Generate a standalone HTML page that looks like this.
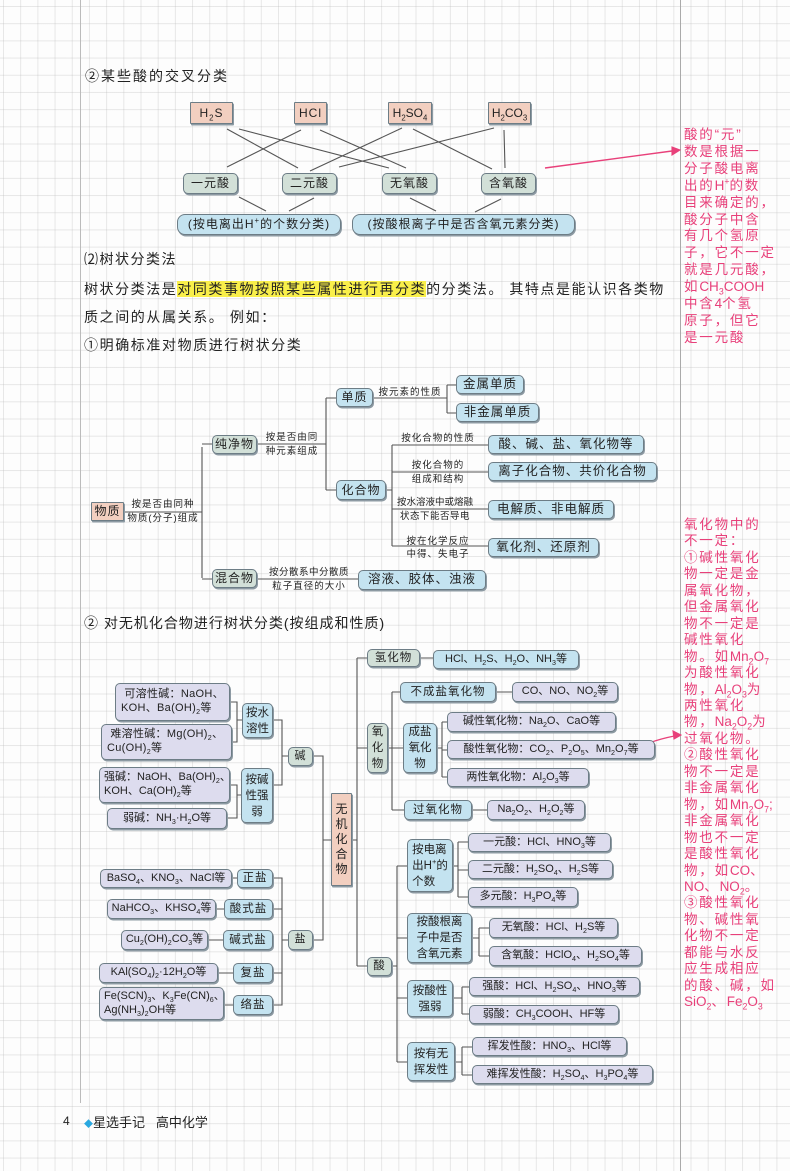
<!DOCTYPE html>
<html><head><meta charset="utf-8">
<style>
*{margin:0;padding:0;box-sizing:border-box}
body{width:790px;height:1171px;position:relative;overflow:hidden;background:#fdfdfd;
background-image:linear-gradient(to right,rgba(180,180,180,.3) 1px,transparent 1px),linear-gradient(to bottom,rgba(180,180,180,.3) 1px,transparent 1px);
background-size:17.2px 17.2px;background-position:3px 6px;
font-family:"Liberation Sans","Noto Sans CJK SC",sans-serif;color:#222}
.b{position:absolute;display:flex;align-items:center;justify-content:center;text-align:center;border:1px solid #6d7d86;border-radius:5px;box-shadow:1px 1.5px 0 #8d9aa3;font-size:12px;line-height:1.25;white-space:nowrap;letter-spacing:1px}
.b.w{white-space:normal;letter-spacing:0;line-height:16px;padding:0 2px}
.pk{background:#f2cfc0;border-radius:1px}
.gb{background:#d2e0d8}
.bl{background:#c4e3f0}
.lv{background:#dddcee}
.t{position:absolute;white-space:nowrap}
.l{position:absolute;font-size:9.5px;line-height:13px;text-align:center;white-space:nowrap;letter-spacing:1px}
.r{position:absolute;color:#e8407a;font-size:13.5px;letter-spacing:1.8px;white-space:nowrap}
.r i{font-style:normal;letter-spacing:0}
sub,sup{font-size:65%;line-height:0}
</style></head><body>
<div style="position:absolute;left:80px;top:0;width:1px;height:1103px;background:#bbb"></div>
<div style="position:absolute;left:680px;top:0;width:1px;height:1171px;background:#aaa"></div>

<svg width="790" height="1171" style="position:absolute;left:0;top:0" fill="none" stroke="#555" stroke-width="1.1">
<g>
<path d="M227 129L298 168M239 129L389 168M301 130L227 167M320 130L406 168M402 128L310 171M413 129L492 169M494 128L339 167M504 130L505 168"/>
<path d="M239 197L266 211M314 198L289 211M410 198L436 211M501 199L475 212"/>
<path d="M545 168L672 151" stroke="#e8407a" stroke-width="1.4"/>
<path d="M672 147L680 150L672 155Z" fill="#e8407a" stroke="#e8407a"/>
<path d="M124 512H202M202 447V578M202 444H212M202 579H212M257 444H326M326 398V490M326 398H336M326 490H336M373 398H447M447 385V413M447 385H456M447 413H456M386 490H392M392 445V546M392 445H488M392 472H488M392 509H488M392 546H488M257 579H358"/>
<path d="M230 702H237V742H232M237 720H242M230 785H237V818H227M237 795H241M273 720H282V785H273M282 756H288"/>
<path d="M232 878H237M216 909H224M208 940H223M218 973H233M224 1005H233M273 878H282V1005H273M282 909H273M282 940H288M282 973H273"/>
<path d="M313 756H323V940H313M323 840H331M352 840H357M357 658V966M357 658H367M357 748H367M357 966H367M420 658H433"/>
<path d="M388 748H392M392 692V810M392 692H400M392 748H403M392 810H404M496 692H512M437 748H442M442 722V777M442 722H447M442 750H447M442 777H447M472 810H487"/>
<path d="M392 966H397M397 866V1062M397 866H407M397 938H407M397 998H407M397 1062H407M453 866H458M458 842V897M458 842H468M458 870H468M458 897H468M472 938H479M479 928V956M479 928H489M479 956H489M453 998H462M462 987V1014M462 987H469M462 1014H469M455 1062H462M462 1047V1075M462 1047H472M462 1075H472"/>
<path d="M630 752Q650 740 680 735" stroke="#e8407a" stroke-width="1.3"/>
<path d="M673 731L681 735L674 739Z" fill="#e8407a" stroke="#e8407a"/>
</g>
</svg>

<div class="t" style="left:85px;top:66px;font-size:14px;letter-spacing:2px">②某些酸的交叉分类</div>
<div class="b pk" style="left:190px;top:102px;width:43px;height:22px"><span>H<sub>2</sub>S</span></div>
<div class="b pk" style="left:294px;top:102px;width:33px;height:22px"><span>HCl</span></div>
<div class="b pk" style="left:388px;top:102px;width:44px;height:22px;letter-spacing:0"><span>H<sub>2</sub>SO<sub>4</sub></span></div>
<div class="b pk" style="left:488px;top:102px;width:43px;height:22px;letter-spacing:0"><span>H<sub>2</sub>CO<sub>3</sub></span></div>
<div class="b gb" style="left:183px;top:173px;width:55px;height:21px">一元酸</div>
<div class="b gb" style="left:282px;top:173px;width:55px;height:21px">二元酸</div>
<div class="b gb" style="left:382px;top:173px;width:55px;height:21px">无氧酸</div>
<div class="b gb" style="left:481px;top:173px;width:55px;height:21px">含氧酸</div>
<div class="b bl" style="left:177px;top:214px;width:164px;height:21px;border-radius:8px"><span>(按电离出H<sup>+</sup>的个数分类)</span></div>
<div class="b bl" style="left:352px;top:214px;width:223px;height:21px;border-radius:8px">(按酸根离子中是否含氧元素分类)</div>

<div class="t" style="left:84px;top:249px;font-size:14px;letter-spacing:1.5px">⑵树状分类法</div>
<div class="t" style="left:84px;top:279px;font-size:14px;letter-spacing:1.55px">树状分类法是<span style="background:#f9ef4a">对同类事物按照某些属性进行再分类</span>的分类法。 其特点是能认识各类物</div>
<div class="t" style="left:84px;top:307px;font-size:14px;letter-spacing:1.6px">质之间的从属关系。 例如：</div>
<div class="t" style="left:84px;top:335px;font-size:14px;letter-spacing:1.6px">①明确标准对物质进行树状分类</div>

<div class="b pk" style="left:91px;top:502px;width:33px;height:19px">物质</div>
<div class="l" style="left:125px;top:498px;width:76px">按是否由同种</div>
<div class="l" style="left:125px;top:512px;width:76px">物质(分子)组成</div>
<div class="b gb" style="left:212px;top:435px;width:45px;height:19px">纯净物</div>
<div class="l" style="left:260px;top:431px;width:64px">按是否由同</div>
<div class="l" style="left:260px;top:445px;width:64px">种元素组成</div>
<div class="b bl" style="left:336px;top:388px;width:37px;height:19px">单质</div>
<div class="l" style="left:375px;top:386px;width:70px">按元素的性质</div>
<div class="b bl" style="left:456px;top:375px;width:68px;height:19px;font-size:12.5px">金属单质</div>
<div class="b bl" style="left:456px;top:403px;width:83px;height:19px;font-size:12.5px">非金属单质</div>
<div class="b bl" style="left:336px;top:480px;width:50px;height:20px">化合物</div>
<div class="l" style="left:396px;top:432px;width:84px">按化合物的性质</div>
<div class="b bl" style="left:488px;top:435px;width:156px;height:19px;font-size:12.5px">酸、碱、盐、氧化物等</div>
<div class="l" style="left:400px;top:459px;width:76px">按化合物的</div>
<div class="l" style="left:400px;top:473px;width:76px">组成和结构</div>
<div class="b bl" style="left:488px;top:462px;width:169px;height:19px;font-size:12.5px">离子化合物、共价化合物</div>
<div class="l" style="left:392px;top:496px;width:86px;letter-spacing:0">按水溶液中或熔融</div>
<div class="l" style="left:392px;top:510px;width:86px;letter-spacing:0.5px">状态下能否导电</div>
<div class="b bl" style="left:488px;top:500px;width:126px;height:19px;font-size:12.5px">电解质、非电解质</div>
<div class="l" style="left:400px;top:535px;width:76px">按在化学反应</div>
<div class="l" style="left:400px;top:548px;width:76px">中得、失电子</div>
<div class="b bl" style="left:488px;top:538px;width:111px;height:19px;font-size:12.5px">氧化剂、还原剂</div>
<div class="b gb" style="left:212px;top:569px;width:45px;height:19px">混合物</div>
<div class="l" style="left:262px;top:566px;width:94px;letter-spacing:0.5px">按分散系中分散质</div>
<div class="l" style="left:262px;top:580px;width:94px">粒子直径的大小</div>
<div class="b bl" style="left:358px;top:570px;width:128px;height:20px;font-size:12.5px">溶液、胶体、浊液</div>

<div class="t" style="left:84px;top:613px;font-size:14px;letter-spacing:1px">② 对无机化合物进行树状分类(按组成和性质)</div>

<div class="b lv" style="left:115px;top:683px;width:115px;height:38px;font-size:11px;justify-content:flex-start;text-align:left;padding-left:5px;letter-spacing:0.3px"><span>&nbsp;可溶性碱：NaOH、<br>KOH、Ba(OH)<sub>2</sub>等</span></div>
<div class="b lv" style="left:101px;top:724px;width:131px;height:36px;font-size:11px;justify-content:flex-start;text-align:left;padding-left:5px;letter-spacing:0.3px"><span>&nbsp;难溶性碱：Mg(OH)<sub>2</sub>、<br>Cu(OH)<sub>2</sub>等</span></div>
<div class="b bl w" style="left:242px;top:703px;width:31px;height:35px;font-size:11.5px">按水溶性</div>
<div class="b lv" style="left:99px;top:767px;width:131px;height:36px;font-size:11px;justify-content:flex-start;text-align:left;padding-left:4px;letter-spacing:0"><span>强碱：NaOH、Ba(OH)<sub>2</sub>、<br>KOH、Ca(OH)<sub>2</sub>等</span></div>
<div class="b lv" style="left:107px;top:808px;width:120px;height:21px;font-size:11px;letter-spacing:0"><span>弱碱：NH<sub>3</sub>·H<sub>2</sub>O等</span></div>
<div class="b bl w" style="left:241px;top:768px;width:32px;height:55px;font-size:11.5px">按碱性强弱</div>
<div class="b gb" style="left:288px;top:747px;width:25px;height:19px;font-size:11px">碱</div>
<div class="b pk w" style="left:331px;top:793px;width:21px;height:93px;font-size:12px;line-height:15px;padding:0 3px">无机化合物</div>
<div class="b lv" style="left:100px;top:869px;width:132px;height:19px;font-size:11px;letter-spacing:0"><span>BaSO<sub>4</sub>、KNO<sub>3</sub>、NaCl等</span></div>
<div class="b bl" style="left:237px;top:869px;width:36px;height:19px;font-size:11.5px">正盐</div>
<div class="b lv" style="left:107px;top:899px;width:109px;height:20px;font-size:11px;letter-spacing:0"><span>NaHCO<sub>3</sub>、KHSO<sub>4</sub>等</span></div>
<div class="b bl" style="left:224px;top:899px;width:49px;height:20px;font-size:11.5px">酸式盐</div>
<div class="b lv" style="left:121px;top:930px;width:87px;height:20px;font-size:11px;letter-spacing:0"><span>Cu<sub>2</sub>(OH)<sub>2</sub>CO<sub>3</sub>等</span></div>
<div class="b bl" style="left:223px;top:930px;width:50px;height:20px;font-size:11.5px">碱式盐</div>
<div class="b gb" style="left:288px;top:930px;width:25px;height:20px;font-size:11px">盐</div>
<div class="b lv" style="left:99px;top:963px;width:119px;height:20px;font-size:11px;letter-spacing:0"><span>KAl(SO<sub>4</sub>)<sub>2</sub>·12H<sub>2</sub>O等</span></div>
<div class="b bl" style="left:233px;top:963px;width:40px;height:20px;font-size:11.5px">复盐</div>
<div class="b lv" style="left:99px;top:987px;width:125px;height:33px;font-size:11px;letter-spacing:0;justify-content:flex-start;text-align:left;padding-left:4px"><span>Fe(SCN)<sub>3</sub>、K<sub>3</sub>Fe(CN)<sub>6</sub>、<br>Ag(NH<sub>3</sub>)<sub>2</sub>OH等</span></div>
<div class="b bl" style="left:233px;top:995px;width:40px;height:20px;font-size:11.5px">络盐</div>

<div class="b gb" style="left:367px;top:649px;width:53px;height:18px;font-size:11.5px">氢化物</div>
<div class="b bl" style="left:433px;top:650px;width:146px;height:19px;font-size:11px;letter-spacing:0"><span>HCl、H<sub>2</sub>S、H<sub>2</sub>O、NH<sub>3</sub>等</span></div>
<div class="b gb w" style="left:367px;top:723px;width:21px;height:50px;font-size:11.5px;padding:0 3px">氧化物</div>
<div class="b bl" style="left:400px;top:682px;width:96px;height:20px;font-size:11.5px">不成盐氧化物</div>
<div class="b lv" style="left:512px;top:682px;width:106px;height:20px;font-size:11px;letter-spacing:0"><span>CO、NO、NO<sub>2</sub>等</span></div>
<div class="b bl w" style="left:403px;top:723px;width:34px;height:50px;font-size:11.5px">成盐氧化物</div>
<div class="b lv" style="left:447px;top:712px;width:169px;height:20px;font-size:11px;letter-spacing:0"><span>碱性氧化物：Na<sub>2</sub>O、CaO等</span></div>
<div class="b lv" style="left:447px;top:740px;width:208px;height:19px;font-size:11px;letter-spacing:0"><span>酸性氧化物：CO<sub>2</sub>、P<sub>2</sub>O<sub>5</sub>、Mn<sub>2</sub>O<sub>7</sub>等</span></div>
<div class="b lv" style="left:447px;top:768px;width:142px;height:19px;font-size:11px;letter-spacing:0"><span>两性氧化物：Al<sub>2</sub>O<sub>3</sub>等</span></div>
<div class="b bl" style="left:404px;top:800px;width:68px;height:20px;font-size:11.5px">过氧化物</div>
<div class="b lv" style="left:487px;top:800px;width:98px;height:20px;font-size:11px;letter-spacing:0"><span>Na<sub>2</sub>O<sub>2</sub>、H<sub>2</sub>O<sub>2</sub>等</span></div>
<div class="b gb" style="left:367px;top:957px;width:25px;height:19px;font-size:11.5px">酸</div>
<div class="b bl w" style="left:407px;top:839px;width:46px;height:53px;font-size:11.5px;text-align:left;padding:0 3px"><span>按电离<br>出H<sup>+</sup>的<br>个数</span></div>
<div class="b lv" style="left:468px;top:833px;width:143px;height:19px;font-size:11px;letter-spacing:0"><span>一元酸：HCl、HNO<sub>3</sub>等</span></div>
<div class="b lv" style="left:468px;top:860px;width:145px;height:19px;font-size:11px;letter-spacing:0"><span>二元酸：H<sub>2</sub>SO<sub>4</sub>、H<sub>2</sub>S等</span></div>
<div class="b lv" style="left:468px;top:887px;width:110px;height:20px;font-size:11px;letter-spacing:0"><span>多元酸：H<sub>3</sub>PO<sub>4</sub>等</span></div>
<div class="b bl w" style="left:407px;top:913px;width:65px;height:50px;font-size:11.5px"><span>按酸根离<br>子中是否<br>含氧元素</span></div>
<div class="b lv" style="left:489px;top:918px;width:129px;height:20px;font-size:11px;letter-spacing:0"><span>无氧酸：HCl、H<sub>2</sub>S等</span></div>
<div class="b lv" style="left:489px;top:946px;width:153px;height:20px;font-size:11px;letter-spacing:0"><span>含氧酸：HClO<sub>4</sub>、H<sub>2</sub>SO<sub>4</sub>等</span></div>
<div class="b bl w" style="left:407px;top:980px;width:46px;height:37px;font-size:11.5px"><span>按酸性<br>强弱</span></div>
<div class="b lv" style="left:469px;top:977px;width:171px;height:19px;font-size:11px;letter-spacing:0"><span>强酸：HCl、H<sub>2</sub>SO<sub>4</sub>、HNO<sub>3</sub>等</span></div>
<div class="b lv" style="left:469px;top:1005px;width:150px;height:19px;font-size:11px;letter-spacing:0"><span>弱酸：CH<sub>3</sub>COOH、HF等</span></div>
<div class="b bl w" style="left:407px;top:1042px;width:48px;height:39px;font-size:11.5px"><span>按有无<br>挥发性</span></div>
<div class="b lv" style="left:472px;top:1037px;width:155px;height:19px;font-size:11px;letter-spacing:0"><span>挥发性酸：HNO<sub>3</sub>、HCl等</span></div>
<div class="b lv" style="left:472px;top:1065px;width:181px;height:19px;font-size:11px;letter-spacing:0"><span>难挥发性酸：H<sub>2</sub>SO<sub>4</sub>、H<sub>3</sub>PO<sub>4</sub>等</span></div>

<div class="r" style="left:684px;top:127px;line-height:16.9px">酸的“元”<br>数是根据一<br>分子酸电离<br>出的<i>H<sup>+</sup></i>的数<br>目来确定的，<br>酸分子中含<br>有几个氢原<br>子，它不一定<br>就是几元酸，<br>如<i>CH<sub>3</sub>COOH</i><br>中含<i>4</i>个氢<br>原子，但它<br>是一元酸</div>
<div class="r" style="left:684px;top:517px;line-height:16.45px">氧化物中的<br>不一定：<br>①碱性氧化<br>物一定是金<br>属氧化物，<br>但金属氧化<br>物不一定是<br>碱性氧化<br>物。如<i>Mn<sub>2</sub>O<sub>7</sub></i><br>为酸性氧化<br>物，<i>Al<sub>2</sub>O<sub>3</sub></i>为<br>两性氧化<br>物，<i>Na<sub>2</sub>O<sub>2</sub></i>为<br>过氧化物。<br>②酸性氧化<br>物不一定是<br>非金属氧化<br>物，如<i>Mn<sub>2</sub>O<sub>7</sub>;</i><br>非金属氧化<br>物也不一定<br>是酸性氧化<br>物，如<i>CO</i>、<br><i>NO</i>、<i>NO<sub>2</sub></i>。<br>③酸性氧化<br>物、碱性氧<br>化物不一定<br>都能与水反<br>应生成相应<br>的酸、碱，如<br><i>SiO<sub>2</sub></i>、<i>Fe<sub>2</sub>O<sub>3</sub></i></div>

<div class="t" style="left:63px;top:1114px;font-size:12px">4</div>
<div class="t" style="left:84px;top:1112px;font-size:13px"><span style="color:#2aa8e0;font-size:9px">◆</span>星选手记&nbsp;&nbsp;&nbsp;高中化学</div>
</body></html>
